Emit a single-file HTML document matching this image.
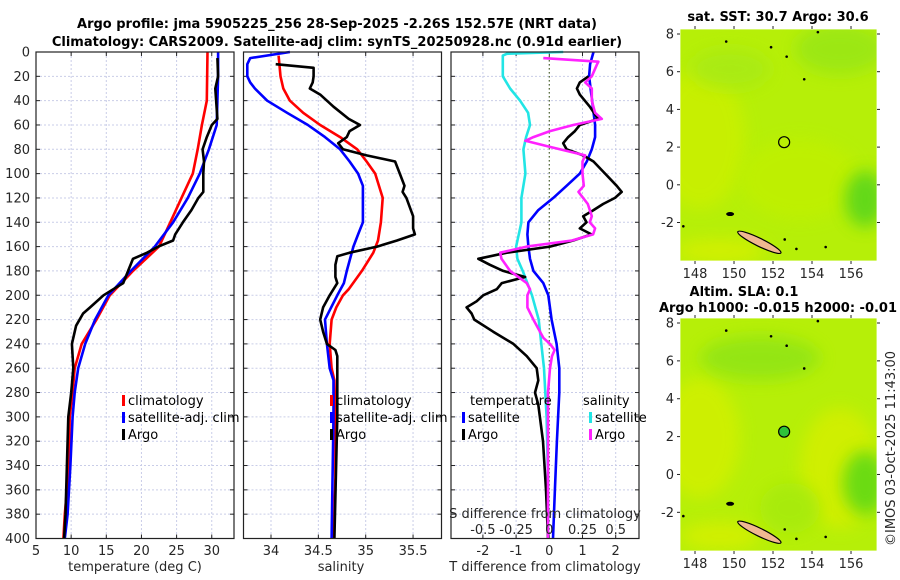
<!DOCTYPE html>
<html><head><meta charset="utf-8">
<style>
body{margin:0;background:#fff;}
svg{display:block;font-family:"DejaVu Sans","Liberation Sans",sans-serif;}
.tk{font-size:13px;fill:#262626;}
.tt{font-size:13px;font-weight:bold;fill:#000;}
.lg{font-size:13px;fill:#000;}
</style></head>
<body>
<svg id="fig" width="900" height="580" viewBox="0 0 900 580" xmlns="http://www.w3.org/2000/svg">
<text class="tt" x="337" y="28" text-anchor="middle">Argo profile: jma 5905225_256 28-Sep-2025 -2.26S 152.57E (NRT data)</text>
<text class="tt" x="337" y="46" text-anchor="middle">Climatology: CARS2009. Satellite-adj clim: synTS_20250928.nc (0.91d earlier)</text>
<g id="panels"></g>
<g id="maps"></g>
<text class="tk" transform="translate(895,546) rotate(-90)" style="font-size:13px">©IMOS 03-Oct-2025 11:43:00</text>
</svg>
<script>
// ---- data (depth in m) ----
const depthTicks = [0,20,40,60,80,100,120,140,160,180,200,220,240,260,280,300,320,340,360,380,400];
const tempTicks = [5,10,15,20,25,30];
const salTicks = [34,34.5,35,35.5];
const salTickLabels = ["34","34.5","35","35.5"];
const tdiffTicks = [-2,-1,0,1,2];
const sdiffTicks = [-0.5,-0.25,0,0.25,0.5];
const sdiffTickLabels = ["-0.5","-0.25","0","0.25","0.5"];

const tClimD = [0,40,60,80,100,120,140,160,180,200,220,240,260,280,300,340,380,400];
const tClim = [29.4,29.3,28.6,28.0,27.3,25.7,24.1,22.5,18.8,15.5,13.6,11.5,10.5,10.2,9.8,9.7,9.1,8.9];
const tSatD = [0,20,40,60,80,100,120,140,160,180,200,220,240,260,280,300,340,380,400];
const tSat = [30.9,30.9,30.8,30.7,29.6,28.3,26.6,24.5,21.9,18.5,15.3,13.4,12.0,11.0,10.5,10.2,9.9,9.5,9.1];
const tArgoD = [5,20,30,55,60,70,80,90,100,115,120,130,140,150,155,160,165,170,180,190,195,200,210,215,225,240,260,280,300,340,380,400];
const tArgo = [30.8,30.9,30.5,30.8,30.0,29.3,28.7,28.9,28.8,28.8,28.1,27.1,25.9,24.8,24.5,22.4,20.8,18.8,18.1,17.4,16.0,14.6,12.7,11.7,10.7,10.1,10.3,10.0,9.6,9.4,9.2,9.0];

const sClimD = [3,20,30,40,50,60,70,80,90,100,120,140,155,165,180,195,200,210,220,240,260,270,300,350,400];
const sClim = [34.08,34.10,34.13,34.20,34.34,34.52,34.73,34.91,35.01,35.10,35.18,35.16,35.13,35.08,34.96,34.82,34.76,34.69,34.64,34.62,34.64,34.67,34.68,34.68,34.66];
const sSatD = [0,5,10,20,25,30,40,50,60,70,80,90,100,110,140,150,160,180,190,200,220,240,260,270,300,400];
const sSat = [34.2,33.78,33.75,33.75,33.78,33.83,33.96,34.17,34.39,34.57,34.73,34.83,34.92,34.97,34.97,34.92,34.87,34.80,34.77,34.70,34.57,34.59,34.62,34.66,34.66,34.64];
const sArgoD = [10,13,20,25,30,35,45,55,60,65,70,75,80,85,90,100,110,115,120,135,145,150,155,160,165,168,175,185,190,200,210,220,230,240,245,250,300,400];
const sArgo = [34.05,34.45,34.45,34.44,34.41,34.52,34.66,34.82,34.94,34.83,34.80,34.71,34.76,35.01,35.31,35.36,35.41,35.39,35.43,35.50,35.50,35.52,35.33,35.12,34.83,34.70,34.68,34.68,34.70,34.62,34.55,34.52,34.55,34.59,34.68,34.70,34.70,34.67];

const tdSatD = [0,10,20,40,60,70,80,90,100,110,120,130,140,150,160,170,180,190,200,220,240,260,280,320,360,400];
const tdSat = [1.33,1.23,1.2,1.29,1.38,1.38,1.28,1.13,0.92,0.52,0.12,-0.33,-0.63,-0.66,-0.63,-0.58,-0.48,-0.18,-0.03,0.07,0.22,0.3,0.3,0.23,0.17,0.11];
const tdArgoD = [20,25,30,35,45,55,60,65,70,75,80,85,90,100,110,115,120,125,130,135,140,145,150,155,160,165,170,175,180,185,190,195,200,205,210,215,220,230,240,250,260,270,280,290,320,360,400];
const tdArgo = [1.18,0.92,0.83,0.92,1.22,1.47,0.92,0.77,0.57,0.42,0.52,1.02,1.33,1.68,2.03,2.18,1.98,1.62,1.33,1.02,1.12,0.92,1.27,0.72,0.02,-1.28,-2.14,-1.79,-1.39,-0.73,-1.43,-1.58,-1.99,-2.19,-2.49,-2.34,-2.26,-1.69,-1.08,-0.68,-0.38,-0.33,-0.43,-0.33,-0.19,-0.1,-0.04];
const sdSatD = [0,1.5,3,20,30,40,50,60,70,80,100,120,140,150,160,170,180,200,220,240,260,280,300,350,400];
const sdSat = [0.105,-0.32,-0.35,-0.35,-0.295,-0.22,-0.16,-0.145,-0.175,-0.195,-0.18,-0.21,-0.21,-0.23,-0.25,-0.24,-0.2,-0.13,-0.08,-0.06,-0.04,-0.03,-0.02,-0.01,-0.01];
const sdArgoD = [5,8,10,20,25,30,40,50,55,60,65,70,73,78,85,90,100,110,115,125,135,140,145,150,155,160,165,170,180,190,195,200,210,220,230,235,240,245,250,260,280,320,400];
const sdArgo = [-0.045,0.37,0.36,0.32,0.27,0.32,0.32,0.345,0.395,0.18,0.005,-0.12,-0.18,0.005,0.27,0.25,0.25,0.26,0.22,0.29,0.32,0.305,0.345,0.33,0.17,-0.17,-0.37,-0.36,-0.295,-0.17,-0.145,-0.165,-0.165,-0.12,-0.07,-0.045,0.005,0.04,0.02,0.005,-0.01,-0.01,-0.01];

const lonTicks = [148,150,152,154,156];
const latTicks = [8,6,4,2,0,-2];
const argoLon = [152.57];
const argoLat = [-2.26];

// ---- layout ----
const NS="http://www.w3.org/2000/svg";
const Y0=52, Y1=538.5, DMAX=400;
const yD = d => Y0 + d*(Y1-Y0)/DMAX;
const P1={x0:36,x1:234}, P2={x0:243.5,x1:441.5}, P3={x0:451,x1:639};
const xT = t => 36 + (t-5)*7.03;
const xS = s => 271 + (s-34)*94.7;
const xTD = v => 549.3 + v*33.2;
const xSD = v => 549.3 + v*4*33.2;
const panels=document.getElementById('panels');
function mk(tag,attrs,parent){const e=document.createElementNS(NS,tag);for(const k in attrs)e.setAttribute(k,attrs[k]);(parent||panels).appendChild(e);return e;}
function txt(s,attrs,parent){const e=mk('text',attrs,parent);e.textContent=s;return e;}

function axes(P,name,xt,xfun){
  const g=mk('g',{});
  
  
  depthTicks.forEach(d=>{const l=mk('line',{x1:P.x0,x2:P.x1,y1:yD(d),y2:yD(d),stroke:'#c9cde8','stroke-width':1,'stroke-dasharray':'2,2'},g);
    
    mk('line',{x1:P.x0,x2:P.x0+4,y1:yD(d),y2:yD(d),stroke:'#222'},g);
    mk('line',{x1:P.x1-4,x2:P.x1,y1:yD(d),y2:yD(d),stroke:'#222'},g);});
  xt.forEach(v=>{const x=xfun(v);const l=mk('line',{x1:x,x2:x,y1:Y0,y2:Y1,stroke:'#c9cde8','stroke-dasharray':'2,2'},g);
    
    mk('line',{x1:x,x2:x,y1:Y1-4,y2:Y1,stroke:'#222'},g);mk('line',{x1:x,x2:x,y1:Y0,y2:Y0+4,stroke:'#222'},g);});
  return g;
}
function frame(P,name){const r=mk('rect',{x:P.x0,y:Y0,width:P.x1-P.x0,height:Y1-Y0,fill:'none',stroke:'#222','stroke-width':1.2});
  }
function line(ds,vs,xf,color,name,w){
  const pts=ds.map((d,i)=>xf(vs[i]).toFixed(1)+','+yD(d).toFixed(1)).join(' ');
  const p=mk('polyline',{points:pts,fill:'none',stroke:color,'stroke-width':w||2.6,'stroke-linejoin':'round'});
  
  
}
function legendEntry(x,y,color,label,name){
  const g=mk('g',{});
  
  
  mk('rect',{x:x,y:y-10,width:3,height:11,fill:color},g);
  txt(label,{x:x+6,y:y,class:'lg'},g);
}

// panel 1: temperature
axes(P1,'temperature',tempTicks,xT);
line(tClimD,tClim,xT,'#ff0000','temp-climatology-line');
line(tSatD,tSat,xT,'#0000ff','temp-satellite-line');
line(tArgoD,tArgo,xT,'#000000','temp-argo-line');
frame(P1,'temperature');
depthTicks.forEach(d=>{const t=txt(String(d),{x:30,y:yD(d)+4.5,class:'tk','text-anchor':'end'});
  });
tempTicks.forEach(v=>{const t=txt(String(v),{x:xT(v),y:555,class:'tk','text-anchor':'middle'});
  });
{const t=txt('temperature (deg C)',{x:135,y:571,class:'tk','text-anchor':'middle'});}
legendEntry(122,405,'#ff0000','climatology','legend-climatology');
legendEntry(122,422,'#0000ff','satellite-adj. clim','legend-satellite');
legendEntry(122,439,'#000000','Argo','legend-argo');

// panel 2: salinity
axes(P2,'salinity',salTicks,xS);
line(sClimD,sClim,xS,'#ff0000','sal-climatology-line');
line(sSatD,sSat,xS,'#0000ff','sal-satellite-line');
line(sArgoD,sArgo,xS,'#000000','sal-argo-line');
frame(P2,'salinity');
salTicks.forEach((v,i)=>{const t=txt(salTickLabels[i],{x:xS(v),y:555,class:'tk','text-anchor':'middle'});
  });
{const t=txt('salinity',{x:341,y:571,class:'tk','text-anchor':'middle'});}
legendEntry(330,405,'#ff0000','climatology','legend-sal-climatology');
legendEntry(330,422,'#0000ff','satellite-adj. clim','legend-sal-satellite');
legendEntry(330,439,'#000000','Argo','legend-sal-argo');

// panel 3: differences
axes(P3,'difference',tdiffTicks,xTD);
{const z=mk('line',{x1:xTD(0),x2:xTD(0),y1:Y0,y2:Y1,stroke:'#556b2f','stroke-width':1.2,'stroke-dasharray':'1.5,2.5'});
 }
line(sdSatD,sdSat,xSD,'#22e5e5','sdiff-satellite-line');
line(tdSatD,tdSat,xTD,'#0000ff','tdiff-satellite-line');
line(tdArgoD,tdArgo,xTD,'#000000','tdiff-argo-line');
line(sdArgoD,sdArgo,xSD,'#ff22ff','sdiff-argo-line');
frame(P3,'difference');
tdiffTicks.forEach(v=>{const t=txt(String(v),{x:xTD(v),y:555,class:'tk','text-anchor':'middle'});
  });
sdiffTicks.forEach((v,i)=>{const t=txt(sdiffTickLabels[i],{x:xSD(v),y:534,class:'tk','text-anchor':'middle'});
  });
{const t=txt('T difference from climatology',{x:545,y:571,class:'tk','text-anchor':'middle'});}
{const t=txt('S difference from climatology',{x:545,y:518,class:'tk','text-anchor':'middle'});}
{const t=txt('temperature',{x:470,y:405,class:'lg'});}
{const t=txt('salinity',{x:583,y:405,class:'lg'});}
legendEntry(462,422,'#0000ff','satellite','legend-tdiff-satellite');
legendEntry(462,439,'#000000','Argo','legend-tdiff-argo');
legendEntry(589,422,'#22e5e5','satellite','legend-sdiff-satellite');
legendEntry(589,439,'#ff22ff','Argo','legend-sdiff-argo');

// ---- maps ----
const maps=document.getElementById('maps');
const MX0=680, MX1=877;
const lonX = lon => MX0 + (lon-147.23)*19.5;
function drawMap(top,bot,title1,title2,name,filled){
  const g=mk('g',{},maps);
  
  
  const latY = lat => top + 5 + (8-lat)*18.77*(bot-top)/231;
  const id=name+'-clip';
  const cp=mk('clipPath',{id:id},g);mk('rect',{x:MX0,y:top,width:MX1-MX0,height:bot-top},cp);
  const c=mk('g',{'clip-path':'url(#'+id+')'},g);
  mk('rect',{x:MX0,y:top,width:MX1-MX0,height:bot-top,fill:'#b6ef08'},c);
  const patches = filled
    ? [[700,top+120,40,60,'#d2f000'],[840,top+150,40,60,'#d4ef00'],[760,top+40,60,22,'#8fe412'],[865,top+165,22,32,'#5ad818'],[720,bot-15,40,14,'#d6f000'],[790,top+190,30,25,'#a6ea10']]
    : [[700,top+110,45,70,'#caf000'],[800,top+150,60,40,'#c0f000'],[840,top+20,45,25,'#98e618'],[865,top+170,20,28,'#54d41a'],[720,bot-10,45,12,'#d6f000'],[730,top+40,40,20,'#a8ea14']];
  patches.forEach(p=>{mk('ellipse',{cx:p[0],cy:p[1],rx:p[2],ry:p[3],fill:p[4],opacity:0.85,filter:'url(#blur)'},c);});
  mk('ellipse',{cx:lonX(151.3),cy:latY(-3.05),rx:24,ry:4,fill:'#f0b890',stroke:'#000','stroke-width':1.2,transform:'rotate(26 '+lonX(151.3)+' '+latY(-3.05)+')'},c);
  mk('ellipse',{cx:lonX(149.8),cy:latY(-1.55),rx:4,ry:2,fill:'#000'},c);
  [[153.6,5.6],[151.9,7.3],[149.6,7.6],[152.7,6.8],[152.6,-2.9],[153.2,-3.4],[154.3,8.1],[147.4,-2.2],[154.7,-3.3]].forEach(p=>mk('circle',{cx:lonX(p[0]),cy:latY(p[1]),r:1.3,fill:'#000'},c));
  const m=mk('circle',{cx:lonX(argoLon[0]),cy:latY(argoLat[0]*-1),r:5.5,fill:filled?'#2ec23a':'none',stroke:'#000','stroke-width':1.2},g);
  
  mk('rect',{x:MX0,y:top,width:MX1-MX0,height:bot-top,fill:'none',stroke:'#fff','stroke-width':0.8},g);
  latTicks.forEach(v=>{const y=latY(v);mk('line',{x1:MX0-3,x2:MX0,y1:y,y2:y,stroke:'#222'},g);mk('line',{x1:MX1,x2:MX1+3,y1:y,y2:y,stroke:'#222'},g);
    const t=txt(String(v),{x:MX0-6,y:y+4.5,class:'tk','text-anchor':'end'},g);});
  lonTicks.forEach(v=>{const x=lonX(v);mk('line',{x1:x,x2:x,y1:bot,y2:bot+3,stroke:'#222'},g);mk('line',{x1:x,x2:x,y1:top-3,y2:top,stroke:'#222'},g);
    const t=txt(String(v),{x:x,y:bot+17,class:'tk','text-anchor':'middle'},g);});
  const t1=txt(title1,{x:title2?744:778,y:title2?top-22:top-8,class:'tt','text-anchor':'middle'},g);
  
  if(title2){const t2=txt(title2,{x:778,y:top-6,class:'tt','text-anchor':'middle'},g);}
}
const defs=mk('defs',{},maps);const f=mk('filter',{id:'blur',x:'-50%',y:'-50%',width:'200%',height:'200%'},defs);mk('feGaussianBlur',{stdDeviation:8},f);
drawMap(29,261,'sat. SST: 30.7 Argo: 30.6',null,'sst-map',false);
drawMap(318,551,'Altim. SLA: 0.1','Argo h1000: -0.015 h2000: -0.01','sla-map',true);
</script>
</body></html>
